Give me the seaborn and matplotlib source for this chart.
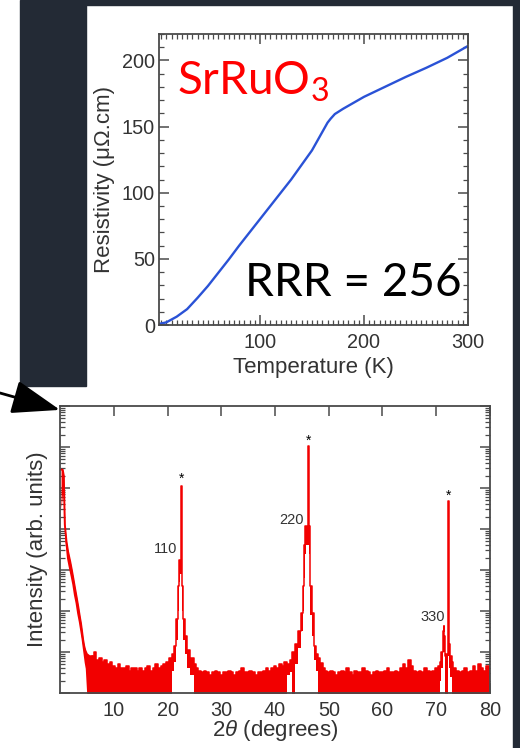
import numpy as np
import pandas as pd
import seaborn as sns
import matplotlib.pyplot as plt
from matplotlib.patches import Rectangle
from matplotlib.ticker import MultipleLocator, LogLocator, NullFormatter

# resistivity vs temperature (top panel)
temperature = [3, 10, 20, 30, 40, 50, 60, 70, 80, 90, 100, 110, 120, 130, 140,
               150, 155, 160, 165, 168, 172, 180, 190, 200, 220, 240, 260, 280, 300]
resistivity = [0.8, 2, 6.3, 12, 20.5, 29.5, 39.5, 49.5, 60, 70, 80, 90, 100, 110, 121,
               132, 139, 146, 153, 156, 159.5, 163.5, 168, 172.5, 180, 187.5, 194.5, 202, 211]

# XRD scan (bottom panel): upper and lower edge of the noisy trace, counts on log axis
two_theta = ([0.2, 0.5, 0.7, 0.9, 1.2, 1.5, 1.9, 2.2, 2.5, 2.8, 3.1, 3.4, 3.7, 3.9, 4.1,
              4.3, 4.5, 4.7, 5.0, 5.5]
             + [6.0, 6.5, 7.0, 7.5, 8.0, 8.5, 9.0, 9.5, 10.0, 10.5, 11.0, 11.5, 12.0, 12.5, 13.0,
                13.5, 14.0, 14.5, 15.0, 15.5, 16.0, 16.5, 17.0, 17.5, 18.0, 18.5, 19.0, 19.5, 20.0, 20.5]
             + [21.0, 21.4, 21.8, 22.1, 22.3, 22.5, 22.6, 22.7, 22.85, 23.1, 23.5, 23.9, 24.5, 25.2]
             + [25.5, 26.0, 26.5, 27.0, 27.5, 28.0, 28.5, 29.0, 29.5, 30.0, 30.5, 31.0, 31.5, 32.0,
                32.5, 33.0, 33.5, 34.0, 34.5, 35.0, 35.5, 36.0, 36.5, 37.0, 37.5, 38.0, 38.5, 39.0,
                39.5, 40.0, 40.5, 41.0, 41.5, 42.0]
             + [42.5, 43.0, 43.5, 44.0, 44.5, 45.0, 45.3, 45.5, 45.7, 46.0, 46.2, 46.35, 46.5, 46.7,
                47.0, 47.4, 47.8, 48.2, 48.7, 49.0]
             + [49.5, 50.0, 50.5, 51.0, 51.5, 52.0, 52.5, 53.0, 53.5, 54.0, 54.5, 55.0, 55.5, 56.0,
                56.5, 57.0, 57.5, 58.0, 58.5, 59.0, 59.5, 60.0, 60.5, 61.0, 61.5, 62.0, 62.5, 63.0,
                63.5, 64.0, 64.5, 65.0, 65.5, 66.0, 66.5, 67.0, 67.5, 68.0, 68.5, 69.0, 69.5, 70.0, 70.5]
             + [70.8, 71.1, 71.3, 71.45, 71.6, 71.8, 72.0, 72.2, 72.35, 72.5, 72.7, 73.0, 73.4]
             + [74.0, 74.5, 75.0, 75.5, 76.0, 76.5, 77.0, 77.5, 78.0, 78.5, 79.0, 79.5, 80.0])

counts_top = ([280000, 280000, 200000, 12600, 5000, 2800, 1600, 1000, 600, 355, 214, 126, 71,
               50, 32, 20, 14, 11, 8.9, 7.9]
              + [7.9, 10, 6.3, 7.1, 5.6, 6.3, 5.0, 5.6, 4.5, 4.0, 5.0, 4.0, 4.0, 4.5, 3.5,
                 4.0, 4.0, 3.5, 4.0, 3.5, 4.0, 4.5, 3.5, 4.0, 5.0, 4.0, 4.5, 5.0, 5.6, 7.1]
              + [8.9, 14, 63, 400, 1800, 1800, 115000, 1800, 400, 63, 25, 11.5, 7.1, 5.0]
              + [4.0, 3.5, 3.2, 3.5, 3.2, 2.8, 3.2, 3.5, 3.2, 2.8, 3.2, 3.2, 3.5, 3.2,
                 2.8, 3.2, 3.5, 4.0, 3.2, 3.2, 3.5, 3.2, 2.8, 3.2, 3.2, 3.5, 4.0, 3.5,
                 4.0, 4.5, 4.0, 5.0, 4.5, 5.6]
              + [5.0, 6.3, 10, 16, 32, 89, 400, 4000, 11700, 11700, 1070000, 11700, 2000, 400,
                 89, 14, 8.9, 7.1, 5.4, 4.0]
              + [3.5, 3.2, 3.5, 3.2, 2.8, 3.2, 3.5, 3.2, 4.0, 3.2, 2.8, 3.5, 3.2, 3.2,
                 4.0, 3.5, 3.2, 2.8, 3.2, 3.5, 3.2, 3.2, 3.5, 4.0, 3.2, 3.2, 3.5, 3.2,
                 4.0, 5.0, 4.0, 6.3, 4.5, 3.5, 3.2, 3.5, 3.2, 4.0, 3.5, 3.2, 3.5, 4.0, 4.5]
              + [5.6, 10, 32, 43, 25, 7.9, 8.9, 16, 47000, 16, 7.9, 5.6, 4.0]
              + [3.5, 3.2, 3.5, 4.0, 3.2, 3.5, 4.5, 3.5, 5.0, 4.0, 3.5, 4.5, 3.5])

counts_low = ([32000, 79000, 40000, 5000, 2000, 1260, 710, 450, 250, 160, 89, 56, 32,
               22, 14, 8.9, 5.6, 4.0, 0.8, 0.8]
              + [0.8] * 30
              + [3.5, 5.6, 20, 100, 500, 800, 800, 500, 100, 20, 8.9, 4.0, 2.8, 0.8]
              + [0.8] * 34
              + [2.8, 3.2, 0.8, 5.0, 12.6, 32, 100, 630, 2500, 4000, 4000, 2500, 400, 79,
                 25, 6.3, 3.5, 0.8, 0.8, 0.8]
              + [0.8] * 43
              + [2.0, 4.0, 10, 20, 10, 0.8, 0.8, 4.0, 7.9, 4.0, 2.5, 0.8, 0.8]
              + [0.8] * 13)

peak_labels = ["110", "220", "330"]
peak_label_x = [19.7, 43.1, 69.4]
peak_label_y = [3200, 17000, 72]
star_x = [22.6, 46.2, 72.35]
star_y = [166000, 1450000, 63000]

df_rho = pd.DataFrame({"T": temperature, "rho": resistivity})
df_xrd = pd.DataFrame({"tt": two_theta, "top": counts_top, "low": counts_low})
# low-angle tail is drawn as a smooth band, the rest as a stepped (noisy) trace
tail = df_xrd.iloc[:21]
scan = df_xrd.iloc[20:]

sns.set_theme(style="ticks")
plt.rcParams["font.family"] = ["Liberation Sans", "DejaVu Sans"]
plt.rcParams["mathtext.fontset"] = "custom"
plt.rcParams["mathtext.rm"] = "Lato"
plt.rcParams["mathtext.it"] = "Liberation Sans:italic"

dark = "#232a35"
spine_col = "#4a4a4a"
txt_col = "#333333"
red = "#f20000"

fig = plt.figure(figsize=(5.2, 7.48), dpi=100)
fig.patch.set_facecolor("white")

# dark slide background around the two white panels
fig.patches.append(Rectangle((0.0385, 0.484), 0.127, 0.516, transform=fig.transFigure,
                             color=dark, zorder=0))
fig.patches.append(Rectangle((0.1654, 0.9933), 0.8211, 0.0067, transform=fig.transFigure,
                             color=dark, zorder=0))
fig.patches.append(Rectangle((0.9865, 0.0), 0.0135, 1.0, transform=fig.transFigure,
                             color=dark, zorder=0))


def style_axes(ax):
    for s in ax.spines.values():
        s.set_color(spine_col)
        s.set_linewidth(1.3)
    ax.tick_params(which="both", direction="in", top=True, right=True,
                   color=spine_col, labelcolor=txt_col, labelsize=14.3)
    ax.tick_params(axis="x", which="both", pad=5.5)
    ax.tick_params(axis="y", which="both", pad=3)
    ax.tick_params(which="major", length=7, width=1.1)
    ax.tick_params(which="minor", length=3.5, width=0.9)
    ax.set_facecolor("white")


# --- top: resistivity ---
ax1 = fig.add_axes([0.3058, 0.5655, 0.5942, 0.389])
sns.lineplot(data=df_rho, x="T", y="rho", ax=ax1, color="#2a52d6", lw=1.7)
ax1.set_xlim(3, 300)
ax1.set_ylim(0, 220)
ax1.xaxis.set_major_locator(MultipleLocator(100))
ax1.xaxis.set_minor_locator(MultipleLocator(5))
ax1.yaxis.set_major_locator(MultipleLocator(50))
ax1.yaxis.set_minor_locator(MultipleLocator(10))
style_axes(ax1)
ax1.set_xlabel("Temperature (K)", fontsize=16, color=txt_col, labelpad=4)
ax1.set_ylabel("Resistivity (μΩ.cm)", fontsize=16, color=txt_col, labelpad=5)
ax1.text(20, 174, "SrRuO$_3$", color="#ff0000", fontsize=33, family="Lato")
ax1.text(86, 22, "RRR = 256", color="black", fontsize=33, family="Lato")

# --- bottom: XRD ---
ax2 = fig.add_axes([0.1154, 0.0735, 0.8269, 0.3837])
ax2.set_yscale("log")
ax2.fill_between(tail["tt"], tail["low"], tail["top"], color=red, lw=0)
sns.lineplot(data=tail, x="tt", y="top", ax=ax2, color=red, lw=1.4)
ax2.fill_between(scan["tt"], scan["low"], scan["top"], step="mid", color=red, lw=0)
sns.lineplot(data=scan, x="tt", y="top", ax=ax2, color=red, lw=1.1, drawstyle="steps-mid")
ax2.set_xlim(0, 80)
ax2.set_ylim(1, 1e7)
ax2.xaxis.set_major_locator(MultipleLocator(10))
ax2.yaxis.set_major_locator(LogLocator(base=10, numticks=10))
ax2.yaxis.set_minor_locator(LogLocator(base=10, subs=np.arange(2, 10), numticks=20))
ax2.yaxis.set_major_formatter(NullFormatter())
ax2.yaxis.set_minor_formatter(NullFormatter())
style_axes(ax2)
ax2.set_xticks([10, 20, 30, 40, 50, 60, 70, 80])
ax2.set_xlabel(r"2$\theta$ (degrees)", fontsize=16, color=txt_col, labelpad=-1)
ax2.set_ylabel("Intensity (arb. units)", fontsize=16, color=txt_col, labelpad=6)

for lab, x, y in zip(peak_labels, peak_label_x, peak_label_y):
    ax2.text(x, y, lab, fontsize=10.5, color=txt_col, ha="center", va="center")
for x, y in zip(star_x, star_y):
    ax2.text(x, y, "*", fontsize=10, color="black", ha="center", va="center")

# arrow pointing to the corner of the XRD panel
fig.add_artist(plt.Annotation("", xy=(0.1154, 0.452), xytext=(0.0, 0.4746),
                              xycoords="figure fraction", textcoords="figure fraction",
                              arrowprops=dict(arrowstyle="-|>,head_length=1.0,head_width=0.35",
                                              mutation_scale=30, lw=2, color="black",
                                              shrinkA=0, shrinkB=0)))

fig.savefig("out.png", dpi=100)
